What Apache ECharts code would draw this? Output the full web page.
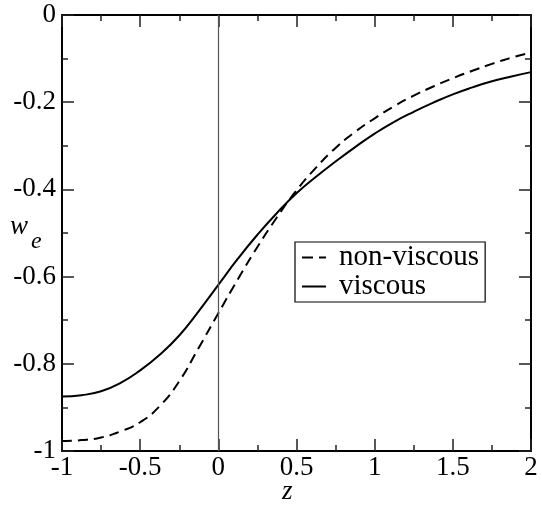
<!DOCTYPE html>
<html>
<head>
<meta charset="utf-8">
<script src="https://cdn.jsdelivr.net/npm/echarts@6/dist/echarts.min.js"></script>
<style>
html,body{margin:0;padding:0;background:#fff;}
#chart{width:542px;height:505px;}
</style>
</head>
<body>
<div id="chart"></div>
<script>
var zValues = [-1, -0.875, -0.75, -0.625, -0.5, -0.375, -0.25, -0.125, 0, 0.125, 0.25, 0.375, 0.5, 0.625, 0.75, 0.875, 1, 1.125, 1.25, 1.375, 1.5, 1.625, 1.75, 1.875, 2];
var nonViscous = [-0.977, -0.975, -0.969, -0.955, -0.934, -0.897, -0.840, -0.763, -0.684, -0.606, -0.532, -0.464, -0.402, -0.350, -0.305, -0.268, -0.237, -0.209, -0.185, -0.164, -0.145, -0.128, -0.112, -0.098, -0.086];
var viscous = [-0.875, -0.872, -0.863, -0.844, -0.815, -0.779, -0.735, -0.679, -0.619, -0.559, -0.504, -0.454, -0.409, -0.371, -0.336, -0.303, -0.272, -0.245, -0.222, -0.201, -0.182, -0.166, -0.152, -0.141, -0.131];
var seriesNames = ['non-viscous', 'viscous'];

function pairs(xs, ys){ return xs.map(function(x,i){ return [x, ys[i]]; }); }

var FONT = '"Liberation Serif", "DejaVu Serif", serif';
var chart = echarts.init(document.getElementById('chart'), null, {renderer:'canvas'});

function xAx(pos, showLabel){
  return {
    type:'value', position:pos, min:-1, max:2, interval:0.5,
    axisLine:{show:true, onZero:false, lineStyle:{color:'#000', width:2}},
    axisTick:{show:true, inside:true, length:12, lineStyle:{color:'#222', width:1.5}},
    minorTick:{show:true, splitNumber:2, length:6, lineStyle:{color:'#222', width:1.5}},
    splitLine:{show:false}, minorSplitLine:{show:false},
    axisLabel:{show:showLabel, margin:3, color:'#000', fontFamily:FONT, fontSize:27}
  };
}
function yAx(pos, showLabel){
  return {
    type:'value', position:pos, min:-1, max:0, interval:0.2,
    axisLine:{show:true, onZero:false, lineStyle:{color:'#000', width:2}},
    axisTick:{show:true, inside:true, length:12, lineStyle:{color:'#222', width:1.5}},
    minorTick:{show:true, splitNumber:2, length:6, lineStyle:{color:'#222', width:1.5}},
    splitLine:{show:false}, minorSplitLine:{show:false},
    axisLabel:{show:showLabel, margin:6, color:'#000', fontFamily:FONT, fontSize:27}
  };
}

var option = {
  backgroundColor:'#fff',
  animation:false,
  grid:{left:62, top:15, right:11, bottom:54, containLabel:false},
  xAxis:[xAx('bottom', true), xAx('top', false)],
  yAxis:[yAx('left', true), yAx('right', false)],
  legend:{
    orient:'vertical', left:295, top:242,
    data:[
      {name:seriesNames[0], icon:'path://M0,0h11v2h-11z M17,0h7v2h-7z'},
      {name:seriesNames[1], icon:'path://M0,0h24v2h-24z'}
    ],
    backgroundColor:'#fff', borderColor:'#000', borderWidth:1.2, borderRadius:0,
    padding:[1,6,1,7], itemGap:0, itemWidth:24, itemHeight:2, itemTextGap:12,
    itemStyle:{color:'#000'},
    textStyle:{fontFamily:FONT, fontSize:29, color:'#000', padding:[0,0,0,8]}
  },
  graphic:[
    {type:'text', left:10, top:213, style:{text:'w', fontFamily:FONT, fontStyle:'italic', fontSize:27, fill:'#000'}},
    {type:'text', left:31, top:230, style:{text:'e', fontFamily:FONT, fontStyle:'italic', fontSize:24, fill:'#000'}},
    {type:'text', left:282, top:478, style:{text:'z', fontFamily:FONT, fontStyle:'italic', fontSize:27, fill:'#000'}}
  ],
  series:[
    {
      name:seriesNames[0], type:'line', data:pairs(zValues, nonViscous),
      smooth:true, symbol:'none', showSymbol:false,
      lineStyle:{color:'#000', width:2, type:[10,6]},
      itemStyle:{color:'#000'},
      markLine:{
        silent:true, symbol:'none', label:{show:false},
        lineStyle:{color:'#555', width:1.2, type:'solid'},
        data:[{xAxis:0}]
      }
    },
    {
      name:seriesNames[1], type:'line', data:pairs(zValues, viscous),
      smooth:true, symbol:'none', showSymbol:false,
      lineStyle:{color:'#000', width:2, type:'solid'},
      itemStyle:{color:'#000'}
    }
  ]
};
chart.setOption(option);
</script>
</body>
</html>
